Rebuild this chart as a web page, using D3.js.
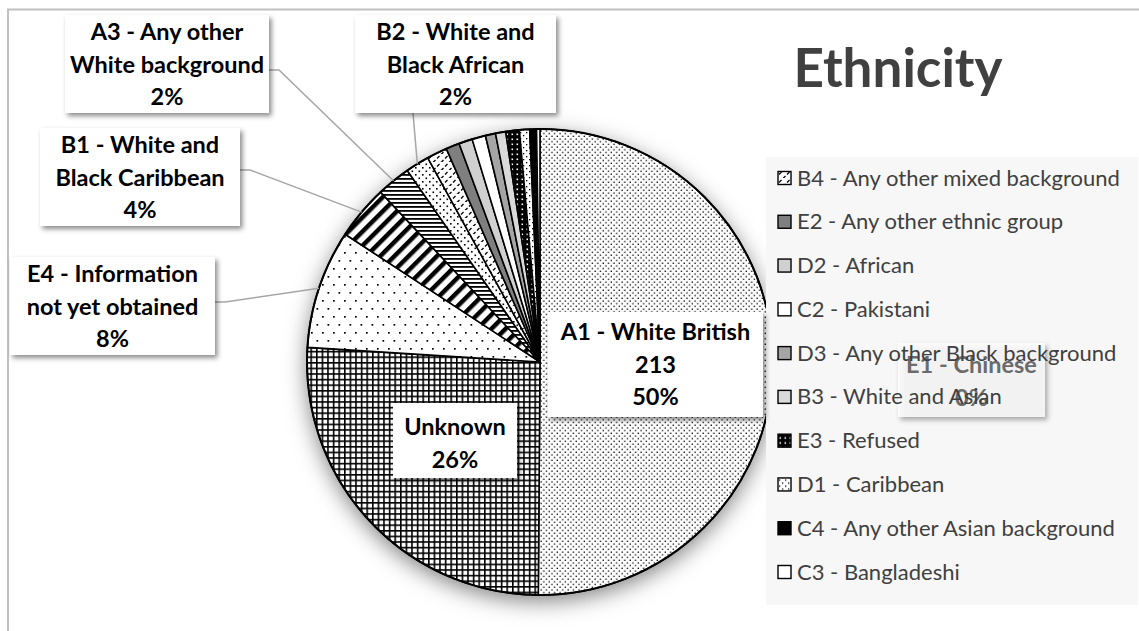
<!DOCTYPE html>
<html>
<head>
<meta charset="utf-8">
<script src="https://cdn.jsdelivr.net/npm/d3@7"></script>
<style>
  html, body { margin: 0; padding: 0; background: #ffffff; }
  svg { display: block; }
  text { font-family: Lato, "Open Sans", sans-serif; }
</style>
</head>
<body>
<script>
// Ethnicity breakdown (counts), in slice order clockwise from 12 o'clock
const categories = [
  "A1 - White British", "Unknown", "E4 - Information not yet obtained",
  "B1 - White and Black Caribbean", "A3 - Any other White background",
  "B2 - White and Black African", "B4 - Any other mixed background",
  "E2 - Any other ethnic group", "D2 - African", "C2 - Pakistani",
  "D3 - Any other Black background", "B3 - White and Asian", "E3 - Refused",
  "D1 - Caribbean", "C4 - Any other Asian background", "C3 - Bangladeshi",
  "E1 - Chinese"
];
const counts = [213, 110, 35, 16, 10, 7, 6, 4, 4, 4, 3, 3, 4, 3, 2, 1, 0];

// Categories listed in the legend panel
const legendCategories = [
  "B4 - Any other mixed background", "E2 - Any other ethnic group", "D2 - African",
  "C2 - Pakistani", "D3 - Any other Black background", "B3 - White and Asian",
  "E3 - Refused", "D1 - Caribbean", "C4 - Any other Asian background", "C3 - Bangladeshi"
];

// Categories that carry a data label, with how the label text is broken into lines
const labelledCategories = ["A1 - White British", "Unknown", "E4 - Information not yet obtained",
  "B1 - White and Black Caribbean", "A3 - Any other White background",
  "B2 - White and Black African", "E1 - Chinese"];
const labelLines = {
  "A1 - White British": ["A1 - White British"],
  "Unknown": ["Unknown"],
  "E4 - Information not yet obtained": ["E4 - Information", "not yet obtained"],
  "B1 - White and Black Caribbean": ["B1 - White and", "Black Caribbean"],
  "A3 - Any other White background": ["A3 - Any other", "White background"],
  "B2 - White and Black African": ["B2 - White and", "Black African"],
  "E1 - Chinese": ["E1 - Chinese"]
};
const labelShowsCount = ["A1 - White British"];

const W = 1139, H = 631;
const cx = 540, cy = 362, R = 233;

const svg = d3.select("body").append("svg").attr("width", W).attr("height", H);
const defs = svg.append("defs");

// ---------- fill patterns ----------
function pattern(id, w, h, bg, draw, transform) {
  const p = defs.append("pattern").attr("id", id)
    .attr("patternUnits", "userSpaceOnUse").attr("width", w).attr("height", h);
  if (transform) p.attr("patternTransform", transform);
  p.append("rect").attr("width", w).attr("height", h).attr("fill", bg);
  draw(p);
  return `url(#${id})`;
}
const dots = (pts, s, c) => p => pts.forEach(([x, y]) =>
  p.append("rect").attr("x", x).attr("y", y).attr("width", s).attr("height", s).attr("fill", c));

const fills = {
  "A1 - White British": pattern("pA1", 5.4, 5.4, "#fff", dots([[0.5, 0.5], [3.2, 3.2]], 1.3, "#000")),
  "Unknown": pattern("pUnk", 5.6, 5.6, "#fff", p => {
    p.append("rect").attr("x", 0).attr("y", 0).attr("width", 5.6).attr("height", 1.6).attr("fill", "#000");
    p.append("rect").attr("x", 0).attr("y", 0).attr("width", 1.6).attr("height", 5.6).attr("fill", "#000");
  }),
  "E4 - Information not yet obtained": pattern("pE4", 11, 16, "#fff", dots([[2, 2], [7.5, 10]], 1.7, "#000")),
  "B1 - White and Black Caribbean": pattern("pB1", 10, 10, "#fff", p =>
    p.append("rect").attr("x", 0).attr("y", 0).attr("width", 4.5).attr("height", 10).attr("fill", "#000"), "rotate(45)"),
  "A3 - Any other White background": pattern("pA3", 4, 4, "#fff", p =>
    p.append("rect").attr("x", 0).attr("y", 0).attr("width", 4).attr("height", 1.8).attr("fill", "#000")),
  "B2 - White and Black African": pattern("pB2", 7, 7, "#fff", dots([[1, 1], [4.5, 4.5]], 1.6, "#000")),
  "B4 - Any other mixed background": pattern("pB4", 8, 8, "#fff", p => {
    p.append("line").attr("x1", 1).attr("y1", 4.5).attr("x2", 3.5).attr("y2", 2).attr("stroke", "#000").attr("stroke-width", 1.3);
    p.append("line").attr("x1", 5).attr("y1", 8.5).attr("x2", 7.5).attr("y2", 6).attr("stroke", "#000").attr("stroke-width", 1.3);
  }),
  "E2 - Any other ethnic group": "#7f7f7f",
  "D2 - African": "#d0d0d0",
  "C2 - Pakistani": "#ffffff",
  "D3 - Any other Black background": "#a5a5a5",
  "B3 - White and Asian": "#d9d9d9",
  "E3 - Refused": pattern("pE3", 5, 5, "#000", dots([[1.5, 1.5]], 1.6, "#fff")),
  "D1 - Caribbean": pattern("pD1", 6, 6, "#fff", dots([[1, 1], [4, 4]], 1.3, "#000")),
  "C4 - Any other Asian background": "#000000",
  "C3 - Bangladeshi": "#ffffff",
  "E1 - Chinese": "#ffffff"
};

// ---------- shadows ----------
const pieShadow = defs.append("filter").attr("id", "pieShadow")
  .attr("x", "-25%").attr("y", "-25%").attr("width", "150%").attr("height", "150%");
pieShadow.append("feDropShadow").attr("dx", 0).attr("dy", 6).attr("stdDeviation", 11)
  .attr("flood-color", "#000").attr("flood-opacity", 0.5);
const boxShadow = defs.append("filter").attr("id", "boxShadow")
  .attr("x", "-20%").attr("y", "-20%").attr("width", "140%").attr("height", "140%");
boxShadow.append("feDropShadow").attr("dx", 2.5).attr("dy", 3).attr("stdDeviation", 2.5)
  .attr("flood-color", "#000").attr("flood-opacity", 0.45);

// ---------- chart frame ----------
svg.append("rect").attr("x", 8).attr("y", 9.5).attr("width", 1160).attr("height", 660)
  .attr("fill", "#fff").attr("stroke", "#c0c0c0").attr("stroke-width", 2);

// ---------- title ----------
svg.append("text").attr("x", 898).attr("y", 87).attr("text-anchor", "middle")
  .attr("font-size", 53).attr("font-weight", 700).attr("fill", "#404040").text("Ethnicity");

// ---------- pie ----------
const data = categories.map((c, i) => ({ category: c, count: counts[i] }));
const total = d3.sum(counts);
const pie = d3.pie().sort(null).value(d => d.count);
const arcs = pie(data);
const arc = d3.arc().innerRadius(0).outerRadius(R);
const edge = d3.arc().innerRadius(R).outerRadius(R);

const pieG = svg.append("g").attr("transform", `translate(${cx},${cy})`);
pieG.append("circle").attr("r", R).attr("fill", "#fff").attr("filter", "url(#pieShadow)");
pieG.selectAll("path.slice").data(arcs.filter(a => a.data.count > 0)).join("path")
  .attr("class", "slice")
  .attr("d", arc)
  .attr("fill", d => fills[d.data.category])
  .attr("stroke", "#000").attr("stroke-width", 1.6).attr("stroke-linejoin", "round");
pieG.append("circle").attr("r", R).attr("fill", "none").attr("stroke", "#000").attr("stroke-width", 2);

// ---------- legend panel ----------
svg.append("rect").attr("x", 766).attr("y", 157).attr("width", 372).attr("height", 448).attr("fill", "#f7f7f7");
const rowY = d3.scalePoint().domain(legendCategories).range([178, 572]);

const pct = v => Math.round(v / total * 100) + "%";
const boxLayout = {
  "A1 - White British": { x: 548, y: 312, w: 215, h: 105, first: 340 },
  "Unknown": { x: 393, y: 403, w: 124, h: 75, first: 435 },
  "E4 - Information not yet obtained": { x: 10, y: 257, w: 205, h: 98, first: 282, lead: [215, 302] },
  "B1 - White and Black Caribbean": { x: 40, y: 128, w: 200, h: 98, first: 153, lead: [240, 170] },
  "A3 - Any other White background": { x: 65, y: 15, w: 204, h: 98, first: 40, lead: [269, 70] },
  "B2 - White and Black African": { x: 355, y: 15, w: 201, h: 98, first: 40, lead: [413, 113] },
  "E1 - Chinese": { x: 898, y: 343, w: 147, h: 74, first: 373 }
};

// leader lines from label boxes to the slice edge
const leaders = svg.append("g");
arcs.filter(a => boxLayout[a.data.category] && boxLayout[a.data.category].lead).forEach(a => {
  const b = boxLayout[a.data.category];
  const [ex, ey] = edge.centroid(a);
  const [sx, sy] = b.lead;
  const pts = sy === b.y + b.h ? [[sx, sy], [cx + ex, cy + ey]]
    : [[sx, sy], [sx + 10, sy], [cx + ex, cy + ey]];
  leaders.append("path").attr("d", d3.line()(pts))
    .attr("fill", "none").attr("stroke", "#a6a6a6").attr("stroke-width", 1.5);
});

function drawLabel(g, a, faded) {
  const c = a.data.category;
  const b = boxLayout[c];
  const lines = labelLines[c].slice();
  if (labelShowsCount.includes(c)) lines.push(String(a.data.count));
  lines.push(pct(a.data.count));
  g.append("rect").attr("x", b.x).attr("y", b.y).attr("width", b.w).attr("height", b.h)
    .attr("fill", "#fff").attr("fill-opacity", faded ? 0.7 : 1)
    .attr("filter", "url(#boxShadow)");
  g.append("text").attr("text-anchor", "middle")
    .attr("font-size", 23.5).attr("font-weight", 700)
    .attr("fill", faded ? "#6b6b6b" : "#000")
    .selectAll("tspan").data(lines).join("tspan")
    .attr("x", b.x + b.w / 2).attr("y", (d, i) => b.first + i * 32.5).text(d => d);
}

const labels = svg.append("g");
arcs.filter(a => labelledCategories.includes(a.data.category) && a.data.category !== "E1 - Chinese")
  .forEach(a => drawLabel(labels.append("g"), a, false));
// the zero-count E1 label sits over the legend panel, beneath the legend entries
drawLabel(svg.append("g"), arcs.find(a => a.data.category === "E1 - Chinese"), true);

// legend entries
const items = svg.append("g").selectAll("g").data(legendCategories).join("g")
  .attr("transform", d => `translate(778,${rowY(d)})`);
items.append("rect").attr("x", 0).attr("y", -6.5).attr("width", 13).attr("height", 13)
  .attr("fill", d => fills[d]).attr("stroke", "#000").attr("stroke-width", 1.4);
items.append("text").attr("x", 19).attr("y", 7.5).attr("font-size", 22)
  .attr("fill", "#404040").text(d => d);
</script>
</body>
</html>
